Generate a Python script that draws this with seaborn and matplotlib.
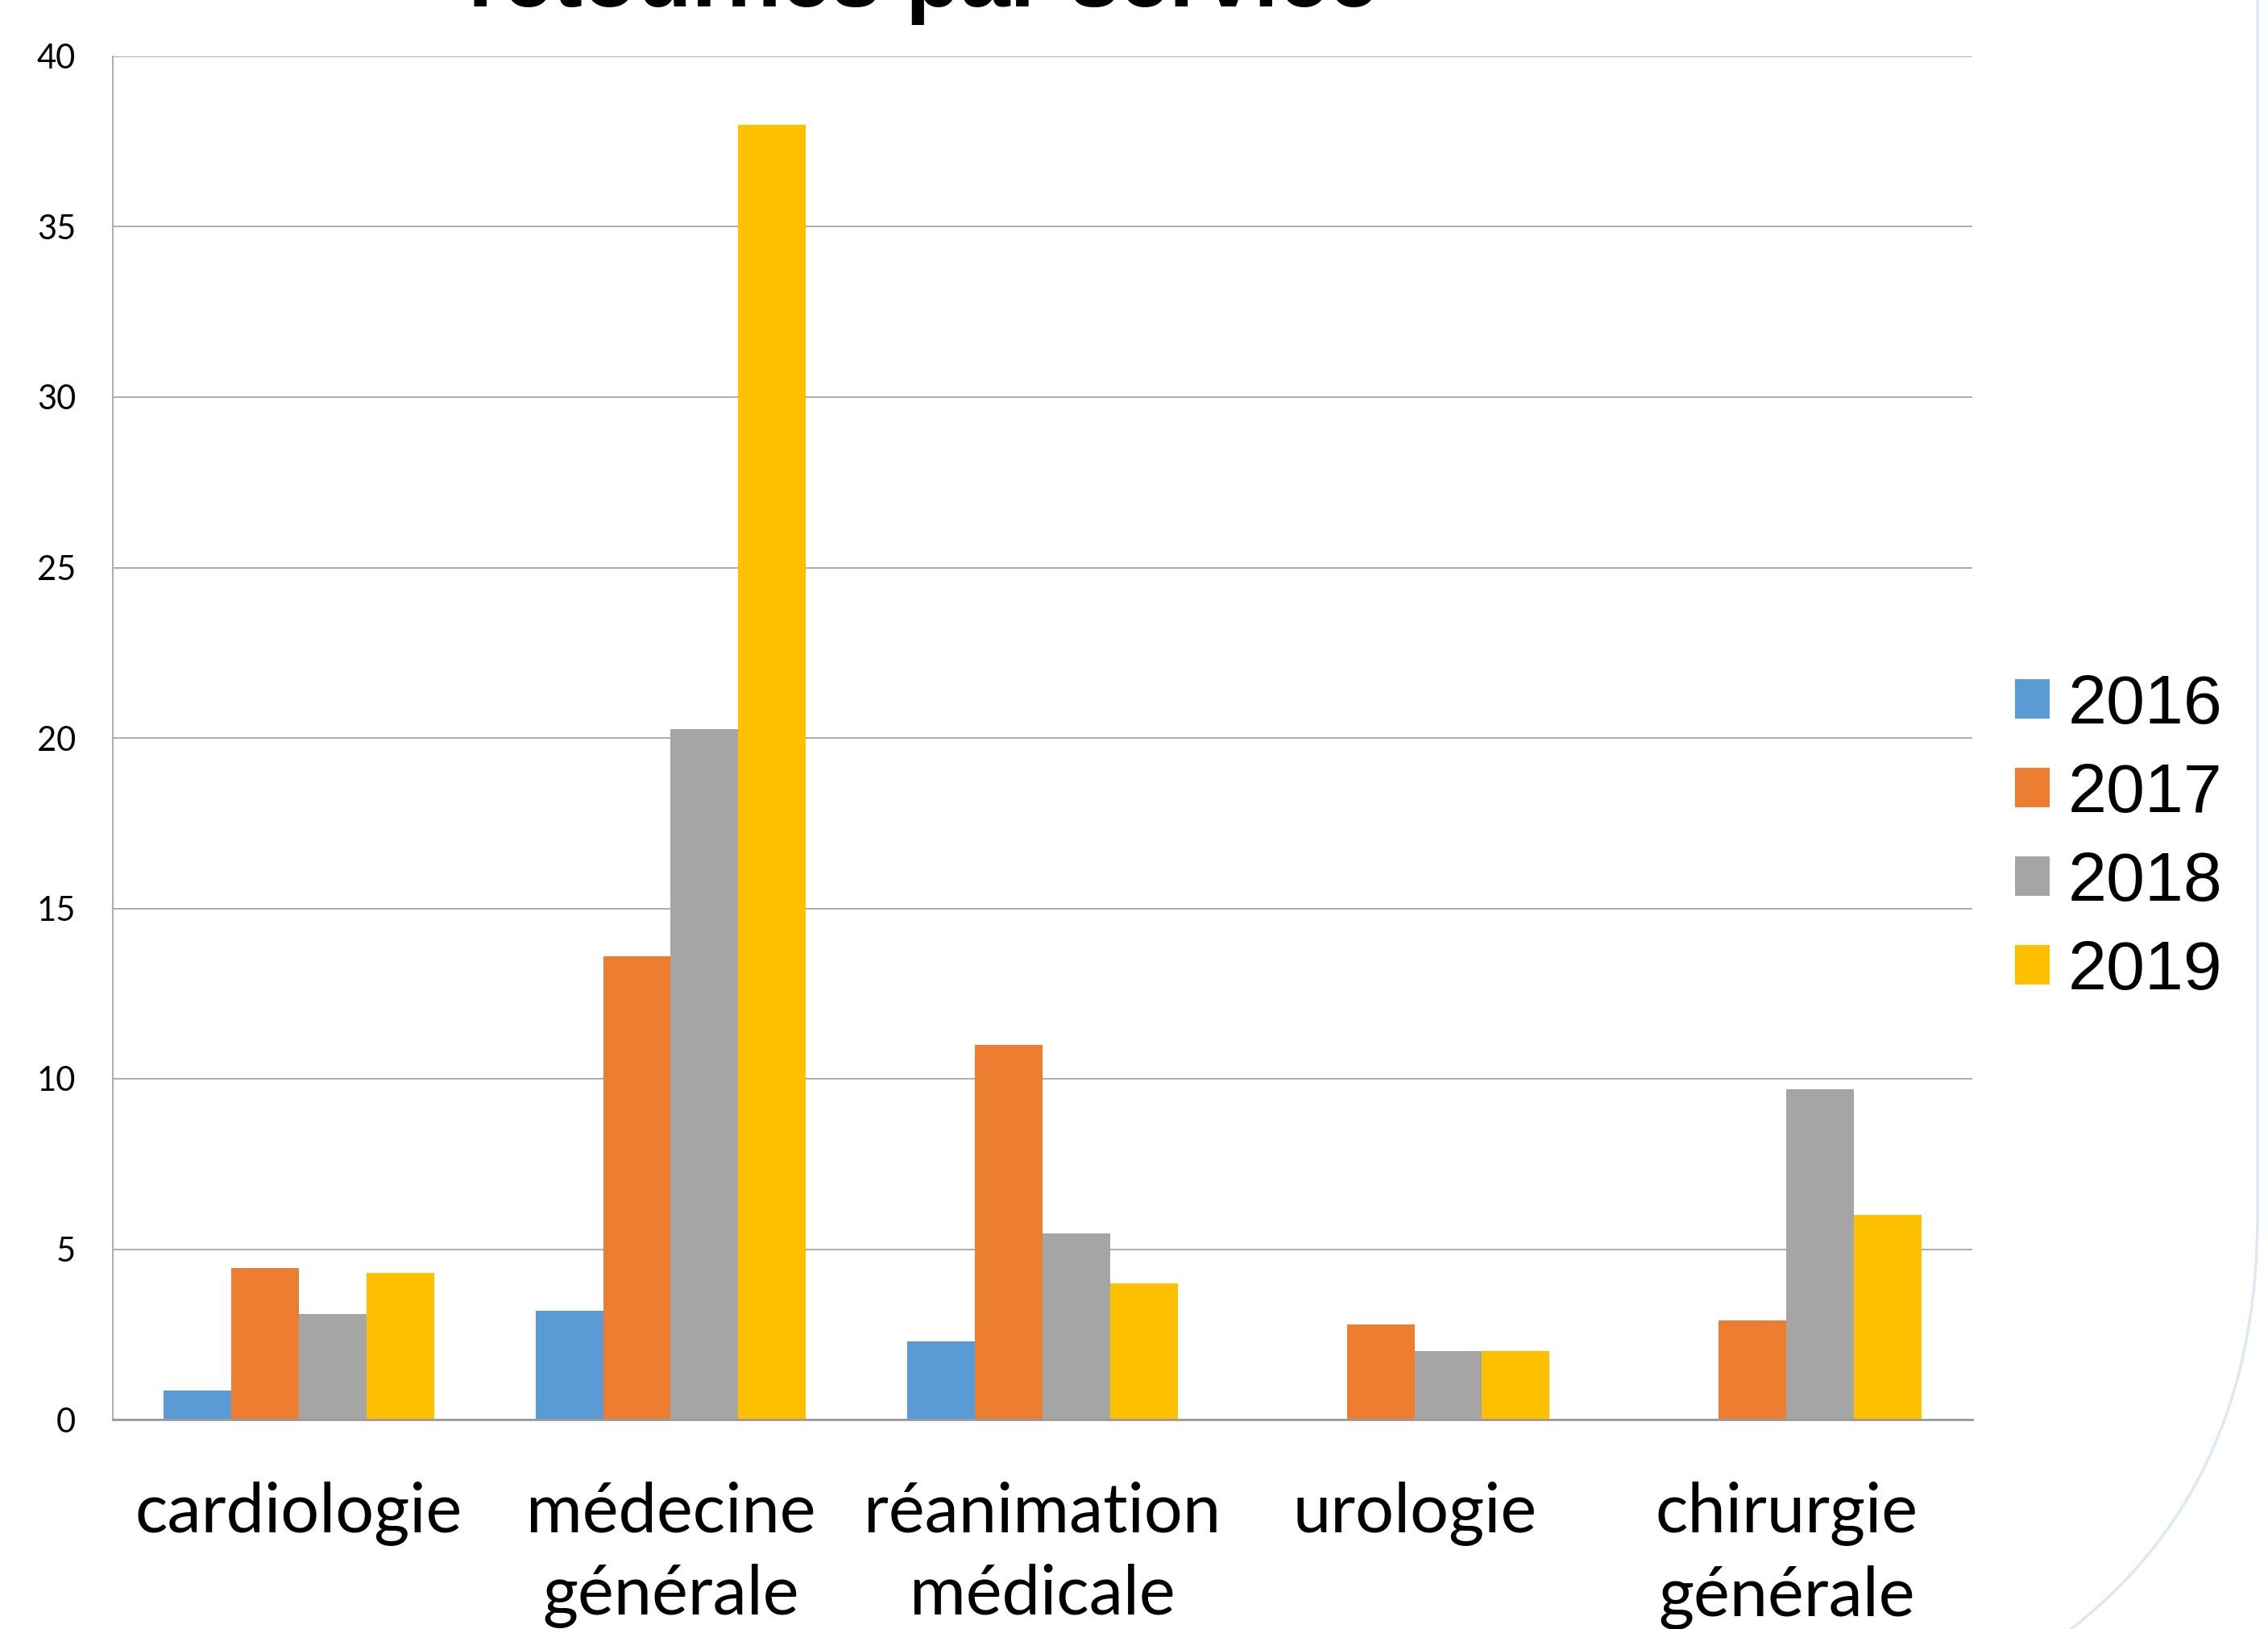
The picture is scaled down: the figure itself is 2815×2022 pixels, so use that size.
import matplotlib
matplotlib.use("Agg")
import matplotlib.pyplot as plt
from matplotlib.path import Path
from matplotlib.patches import PathPatch
import seaborn as sns
import pandas as pd

categories = ["cardiologie", "médecine\ngénérale", "réanimation\nmédicale", "urologie", "chirurgie\ngénérale"]
years = ["2016", "2017", "2018", "2019"]
v2016 = [0.85, 3.2, 2.3, 0.0, 0.0]
v2017 = [4.45, 13.6, 11.0, 2.8, 2.9]
v2018 = [3.1, 20.25, 5.45, 2.0, 9.7]
v2019 = [4.3, 38.0, 4.0, 2.0, 6.0]
colors = ["#5B9BD5", "#ED7D31", "#A5A5A5", "#FFC000"]
title_text = "retournés par service"
yticks = [0, 5, 10, 15, 20, 25, 30, 35, 40]

rows = []
for yr, vals in zip(years, [v2016, v2017, v2018, v2019]):
    for c, v in zip(categories, vals):
        rows.append({"service": c, "année": yr, "valeur": v})
df = pd.DataFrame(rows)

sns.set_theme(style="white")
W, H = 2815, 2022
fig = plt.figure(figsize=(W / 100, H / 100), dpi=100)
fig.patch.set_facecolor("white")
ax = fig.add_axes([140 / W, 1 - 1762 / H, (2448 - 140) / W, (1762 - 70) / H])

sns.barplot(data=df, x="service", y="valeur", hue="année", order=categories,
            hue_order=years, palette=colors, width=0.727, saturation=1,
            linewidth=0, ax=ax, legend=True)

ax.set_ylim(0, 40)
ax.set_xlim(-0.5, 4.5)
ax.set_yticks(yticks)
ax.set_yticklabels([str(t) for t in yticks])
ax.yaxis.grid(True, color="#A6A6A6", linewidth=1.3)
ax.set_axisbelow(True)
ax.set_xlabel("")
ax.set_ylabel("")
for s in ["top", "right"]:
    ax.spines[s].set_visible(False)
ax.spines["left"].set_color("#A6A6A6")
ax.spines["left"].set_linewidth(1.3)
ax.spines["bottom"].set_color("#9A9A9A")
ax.spines["bottom"].set_linewidth(2.0)
ax.tick_params(axis="both", length=0)
ax.tick_params(axis="y", pad=33)
ax.tick_params(axis="x", pad=55)
for lab in ax.get_yticklabels():
    lab.set_fontfamily("Lato")
    lab.set_fontsize(30)
    lab.set_color("black")
for lab in ax.get_xticklabels():
    lab.set_fontfamily("Lato")
    lab.set_fontsize(61)
    lab.set_color("black")
    lab.set_linespacing(1.38)

handles, labels = ax.get_legend_handles_labels()
ax.get_legend().remove()
fig.legend(handles, labels, loc="center left",
           bbox_to_anchor=(2501 / W, 1 - 1041 / H), frameon=False,
           borderpad=0, borderaxespad=0, handlelength=0.5, handleheight=0.5,
           handletextpad=0.26, labelspacing=0.35, labelcolor="black",
           prop={"family": "Liberation Sans", "size": 62})

fig.text(1146 / W, 1 - 8 / H, title_text, ha="center", va="baseline",
         fontsize=80, fontweight="bold", family="Liberation Sans", color="black")

# decorative slide border curve
def fp(x, y):
    return (x / W, 1 - y / H)
verts = [fp(2802, -5), fp(2802, 1509), fp(2802, 1850), fp(2560, 2030)]
codes = [Path.MOVETO, Path.LINETO, Path.CURVE3, Path.CURVE3]
fig.add_artist(PathPatch(Path(verts, codes), transform=fig.transFigure,
                         fill=False, edgecolor="#DCE8F5", linewidth=2.5))

fig.savefig("out.png", dpi=100, facecolor="white")
